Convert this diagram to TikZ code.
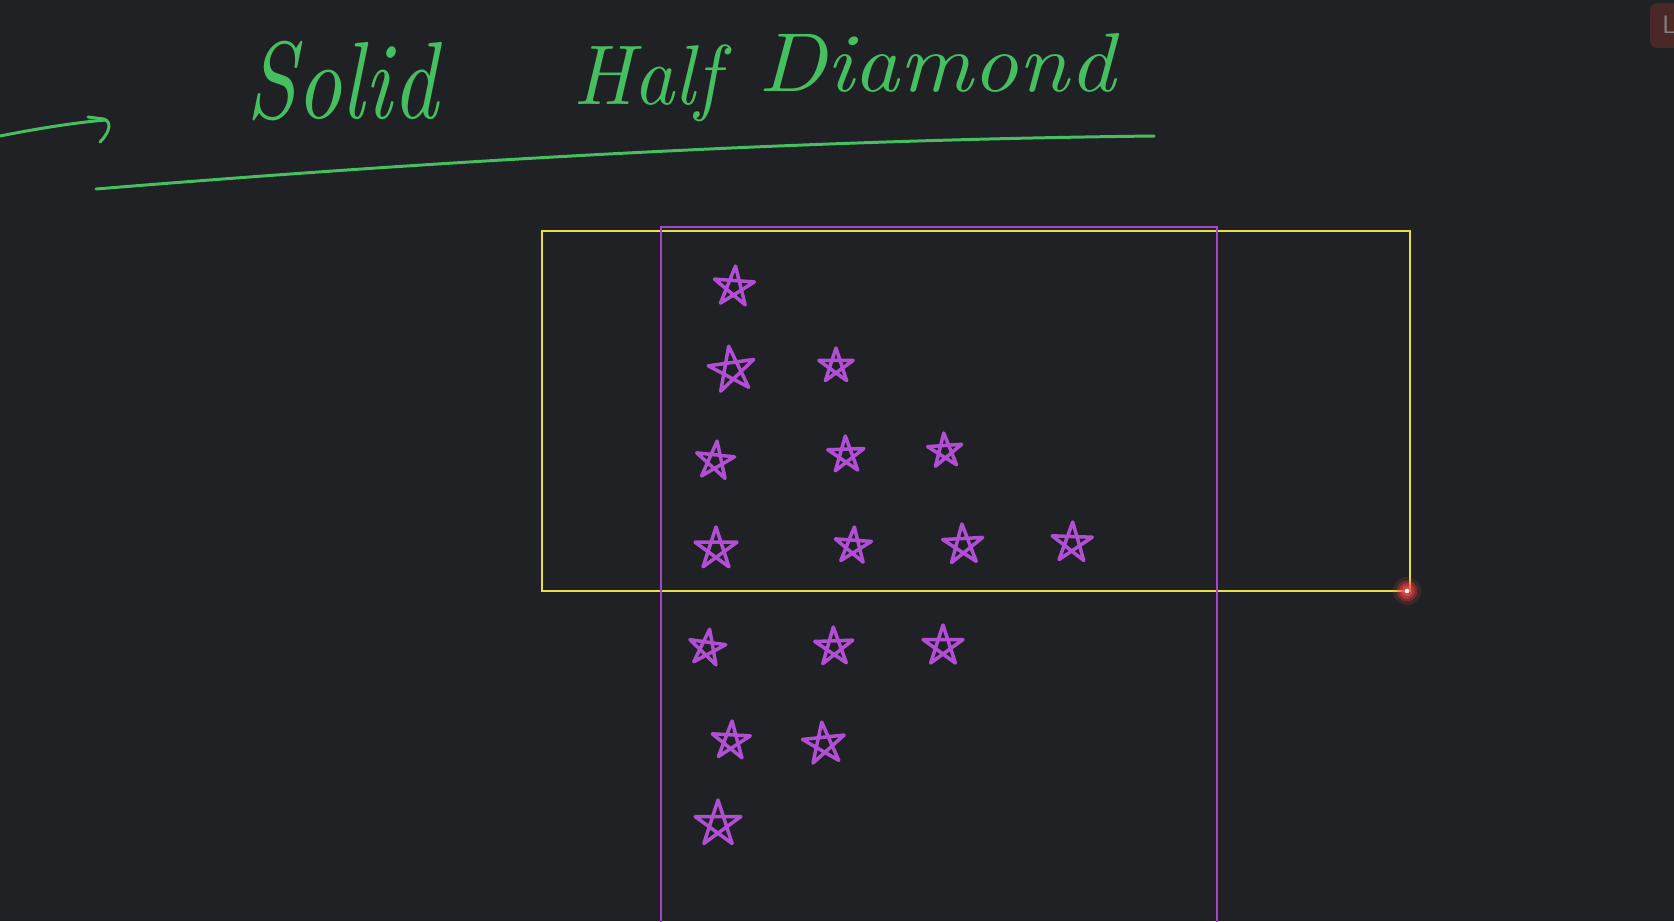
\documentclass[tikz,border=0pt]{standalone}
\usepackage{tikz}
\usetikzlibrary{calc,positioning}
\usepackage{xcolor}
\definecolor{board}{HTML}{202124}
\definecolor{pen}{HTML}{45BF5F}
\definecolor{starpen}{HTML}{B04FD4}
\definecolor{frame}{HTML}{A744C9}
\definecolor{marker}{HTML}{E6E045}
\definecolor{glow}{HTML}{FF4848}
\definecolor{btnred}{HTML}{4A2828}
\tikzset{
    penline/.style={
        line width=1.7pt,
        color=pen,
        line cap=round,
        line join=round
    },
    boxline/.style={
        line width=1.2pt,
        line cap=round
    },
    starline/.style={
        line width=2pt,
        color=starpen,
        line cap=round,
        line join=round
    },
    titleword/.style={
        pen,
        anchor=base west,
        inner sep=0pt,
        font=\itshape
    },
    pentstar/.pic={
        \draw[starline]
            (0,-1) -- (-0.588,0.809) -- (0.951,-0.309)
            -- (-0.951,-0.309) -- (0.588,0.809) -- cycle;
    }
}

\begin{document}
\begin{tikzpicture}[x=0.02cm,y=-0.02cm]

    % Board
    \fill[board] (0,0) rectangle (1674,921);
    \useasboundingbox (0,0) rectangle (1674,921);

    % Button
    \fill[btnred,rounded corners=4pt]
        (1650,3) rectangle (1700,48);
    \node[
        text=gray,
        font=\sffamily\Large,
        inner sep=0pt
    ] (btn)
        at (1669,25)
        {L};

    % Title
    \node[titleword] (solid)
        at (246,118)
        {\resizebox{108.8pt}{44pt}{Solid}};
    \node[titleword] (half)
        at (573,104)
        {\resizebox{83.3pt}{34pt}{Half}};
    \node[titleword] (diamond)
        at (758,91)
        {\resizebox{203pt}{33pt}{Diamond}};

    % Arrow
    \draw[penline]
        (0,136) .. controls (40,128) and (80,122) .. (106,120);
    \draw[penline]
        (88,117) -- (104,119)
        .. controls (112,122) and (110,132) .. (100,142);

    % Underline
    \draw[penline]
        (96,189) .. controls (450,160) and (800,140) .. (1154,136);

    % Frames
    \draw[boxline,marker]
        (542,231) rectangle (1410,591);
    \draw[boxline,frame]
        (661,930) -- (661,227) -- (1217,227) -- (1217,930);

    % Stars
    \foreach \sx/\sy/\sr/\rot in {
        734/287/21/-4,
        732/370/24/8, 836/366/18/0,
        715/461/20/-6, 846/455/19/2, 945/451/18/4,
        716/549/22/0, 853/546/19/-4, 963/545/21/3, 1072/543/21/-2,
        707/648/19/-8, 834/647/20/2, 943/646/21/0,
        731/741/20/-3, 824/744/22/6,
        718/824/24/0}
        \pic[rotate=\rot,scale=\sr] at (\sx,\sy) {pentstar};

    % Pointer
    \foreach \gr/\gop in {8pt/0.15,6pt/0.25,4.5pt/0.4,3pt/0.6}
        \fill[glow,opacity=\gop]
            (1407,591) circle (\gr);
    \fill[white]
        (1407,591) circle (1.3pt);

\end{tikzpicture}
\end{document}
